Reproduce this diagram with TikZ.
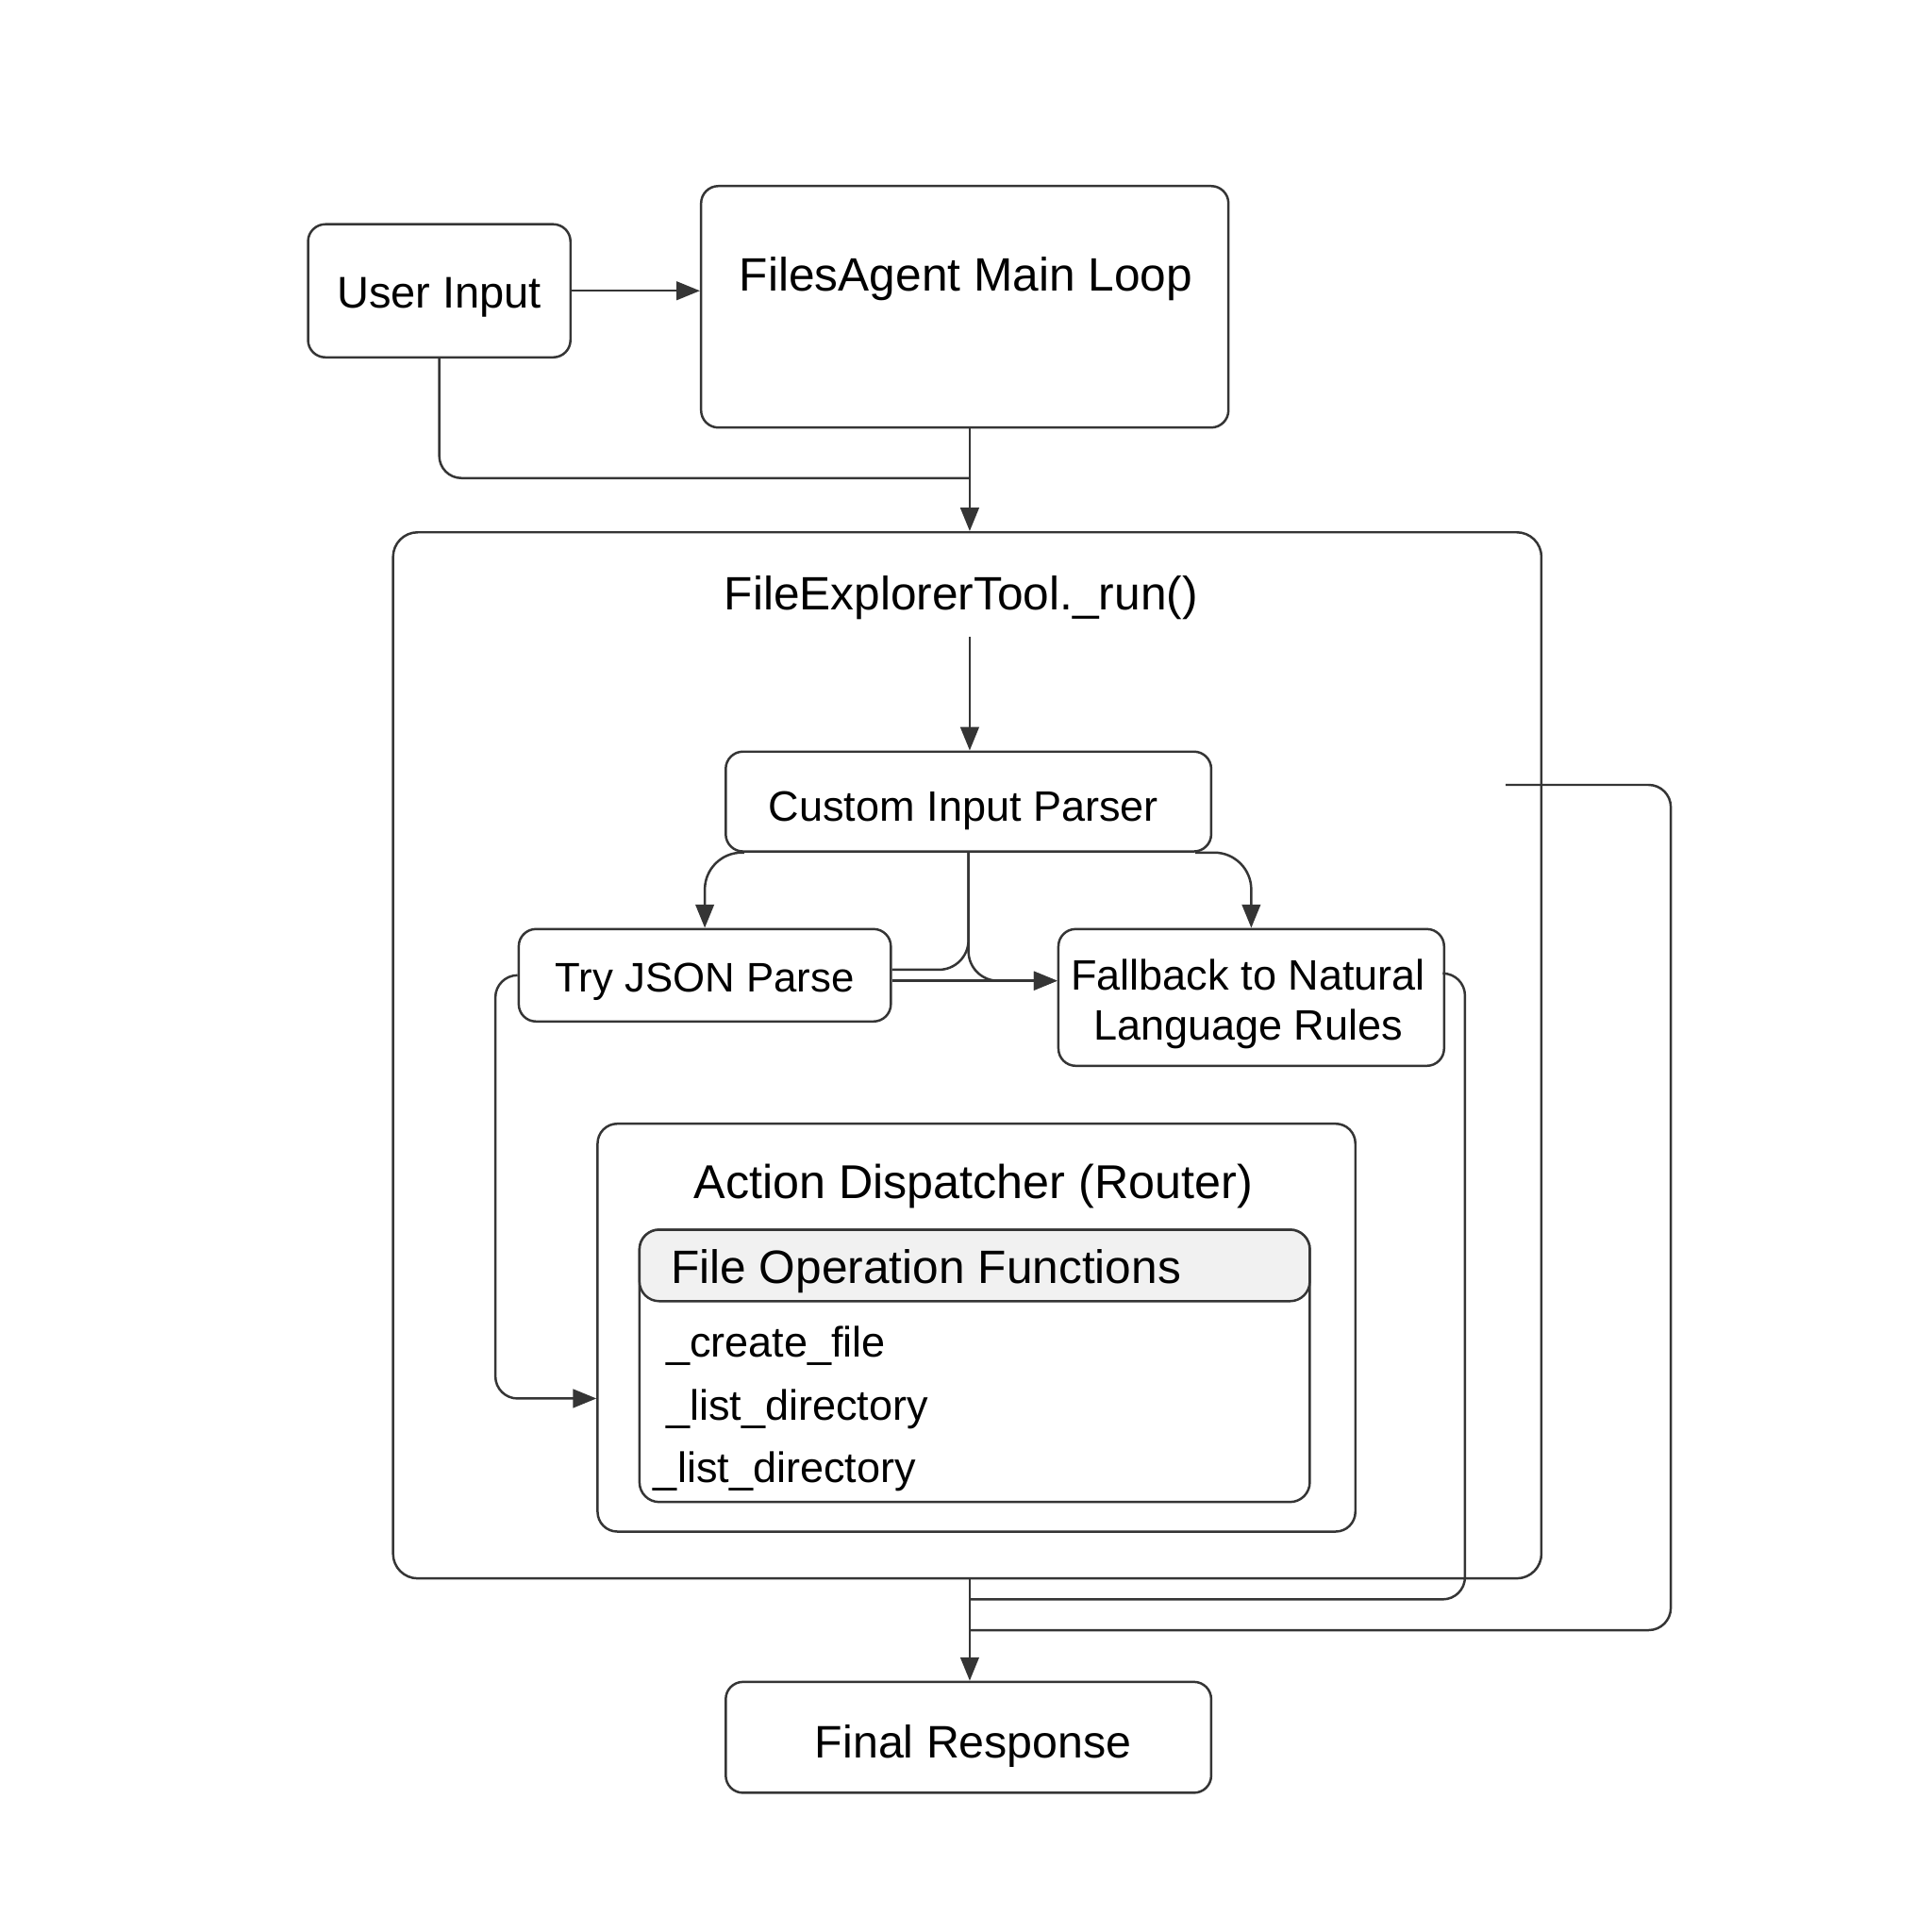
\documentclass[tikz,border=0pt]{standalone}
\usepackage{fontspec}
\setmainfont{Liberation Sans}
\usetikzlibrary{arrows.meta,positioning}
\definecolor{edge}{HTML}{353535}
\definecolor{band}{HTML}{F1F1F1}
\tikzstyle{box} = [draw=edge,line width=1.9pt,rectangle,rounded corners=14pt,inner sep=0pt,fill=white]
\tikzstyle{big} = [font=\fontsize{38}{45}\selectfont,text height=31pt,text depth=3pt]
\tikzstyle{small} = [font=\fontsize{34.5}{41}\selectfont,text height=29pt,text depth=2.2pt]
\tikzstyle{link} = [-,draw=edge,line width=1.9pt,rounded corners=18pt]
\tikzstyle{flow} = [link,-{Triangle[length=19pt,width=15pt]}]
\def \jog {18}
\begin{document}
\begin{tikzpicture}[x=1pt,y=-1pt]
  \useasboundingbox (0,0) rectangle (1568,1568);
  % frames
  \node[box,rounded corners=20pt,minimum width=932pt,minimum height=849pt] (tool) at (785,856.5) {};
  \node[big] (tooltitle) at (780,481) {FileExplorerTool.\_run()};
  \node[box,minimum width=213pt,minimum height=108pt,big,font=\fontsize{36}{43}\selectfont] (user) at (356.5,236) {User Input};
  \node[box,minimum width=428pt,minimum height=196pt] (mainloop) at (783,249) {};
  \node[big] (looptitle) at (784,222) {FilesAgent Main Loop};
  \coordinate (join) at (787,388);
  \coordinate (runout) at (787,517);
  \coordinate (loopstart) at (1222,637);
  \coordinate (mergeA) at (787,1298);
  \coordinate (mergeB) at (787,1323);
  \draw[flow] (user.east) -- (user.east -| mainloop.west);
  \draw[link] (user.south) |- (join);
  \draw[flow] (mainloop.south -| join) -- (join |- tool.north);
  % parsing
  \node[box,minimum width=394pt,minimum height=81pt] (parser) at (786,650.5) {};
  \node[small] (parsertext) at (782,653) {Custom Input Parser};
  \node[box,small,font=\fontsize{33.5}{40}\selectfont,minimum width=302pt,minimum height=75pt] (json) at (572,791.5) {Try JSON Parse};
  \node[box,minimum width=313pt,minimum height=111pt] (fallback) at (1015.5,809.5) {};
  \node[font=\fontsize{34.5}{41}\selectfont,align=center] (fallbacktext) at (1013,815) {Fallback to Natural\\Language Rules};
  \draw[flow] (runout) -- (runout |- parser.north);
  \draw[flow,rounded corners=30pt] ([xshift=16pt]parser.south west) -| (json.north);
  \draw[flow,rounded corners=30pt] ([xshift=-14pt]parser.south east) -| (fallback.north);
  \draw[link,rounded corners=24pt] (parser.south) |- ([yshift=4.5pt]json.east);
  \draw[flow,rounded corners=24pt] (parser.south) |- ([yshift=13.5pt]fallback.west);
  \draw[flow] ([yshift=-4.5pt]json.east) -- ([yshift=-4.5pt]json.east -| fallback.west);
  % dispatcher
  \node[box,rounded corners=16pt,minimum width=615pt,minimum height=331pt] (dispatcher) at (792.5,1077.5) {};
  \node[big,font=\fontsize{38.5}{46}\selectfont] (dispatchtitle) at (790,959) {Action Dispatcher (Router)};
  \node[box,rounded corners=16pt,minimum width=544pt,minimum height=221pt] (fileops) at (791,1108.5) {};
  \node[box,rounded corners=16pt,fill=band,minimum width=544pt,minimum height=58pt,anchor=north] (opshead) at (fileops.north) {};
  \node[big,anchor=west] (opstitle) at (541,1028) {File Operation Functions};
  \node[small,anchor=west] (createfile) at (537,1088) {\_create\_file};
  \node[small,anchor=west] (listdir) at (537,1139) {\_list\_directory};
  \node[small,anchor=west] (listdirb) at (527,1190) {\_list\_directory};
  \draw[flow] (json.west) -- ++(-\jog,0) |- ([yshift=-57.5pt]dispatcher.west);
  % way out
  \node[box,minimum width=394pt,minimum height=90pt] (final) at (786,1410) {};
  \node[big,font=\fontsize{37}{44}\selectfont] (finaltext) at (790,1413) {Final Response};
  \draw[link] ([yshift=19.5pt]fallback.east) -- ++(16,0) |- (mergeA);
  \draw[link] (loopstart) -| ++(134,686) -- (mergeB);
  \draw[flow] (mergeA |- tool.south) -- (mergeA |- final.north);
\end{tikzpicture}
\end{document}
